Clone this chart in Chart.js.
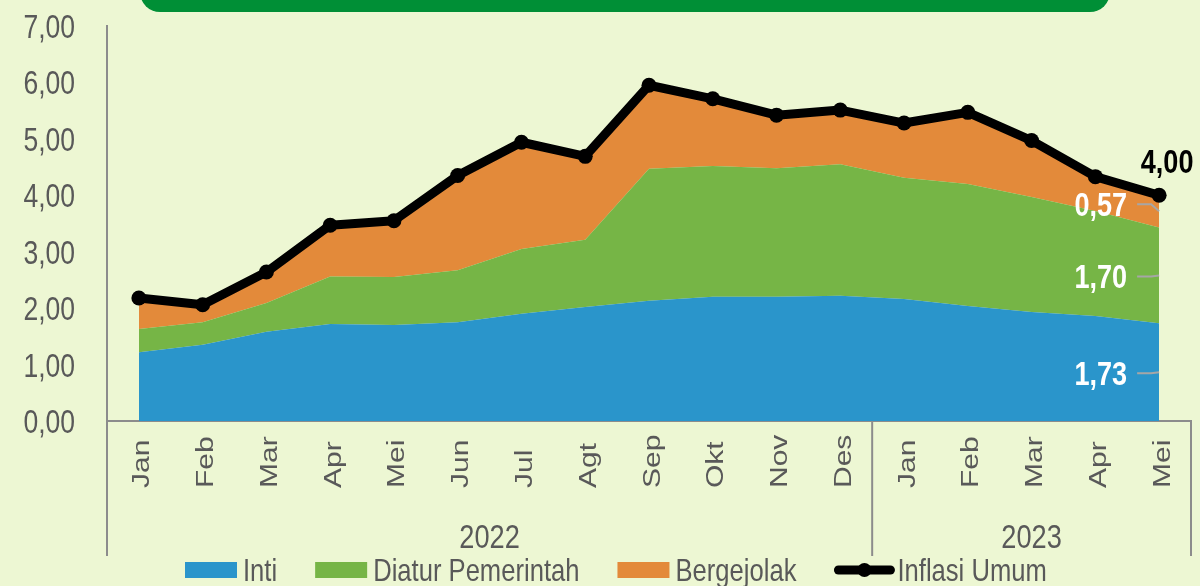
<!DOCTYPE html>
<html>
<head>
<meta charset="utf-8">
<script src="https://cdn.jsdelivr.net/npm/chart.js@4"></script>
<style>
  html, body { margin: 0; padding: 0; background: #EDF7D3; }
  #wrap { width: 1200px; height: 586px; }
</style>
</head>
<body>
<div id="wrap"><canvas id="c" width="1200" height="586"></canvas></div>
<script>
// ---- data ----
const months = ['Jan','Feb','Mar','Apr','Mei','Jun','Jul','Agt','Sep','Okt','Nov','Des','Jan','Feb','Mar','Apr','Mei'];
const years = ['2022', '2023'];
const monthsPerYear = [12, 5];
const inti        = [1.22,1.35,1.58,1.72,1.70,1.75,1.90,2.02,2.13,2.20,2.20,2.22,2.16,2.04,1.93,1.86,1.73];
const diatur      = [0.41,0.40,0.51,0.84,0.85,0.92,1.15,1.19,2.34,2.32,2.28,2.33,2.15,2.16,2.04,1.86,1.70];
const bergejolak  = [0.55,0.31,0.55,0.91,1.00,1.68,1.89,1.48,1.48,1.19,0.94,0.96,0.97,1.27,1.00,0.61,0.57];
const inflasiUmum = [2.18,2.06,2.64,3.47,3.55,4.35,4.94,4.69,5.95,5.71,5.42,5.51,5.28,5.47,4.97,4.33,4.00];
const seriesNames = ['Inti', 'Diatur Pemerintah', 'Bergejolak', 'Inflasi Umum'];
const yTicks = [0,1,2,3,4,5,6,7];

// ---- style ----
const BG = '#EDF7D3';
const TXT = '#595959';
const AXIS = '#8C8C8C';
const C_INTI = '#2A95CB', C_DIATUR = '#76B546', C_BERG = '#E38A3A';
const FONT = "'Liberation Sans', Arial, sans-serif";
const SQ = 0.8; // horizontal condensing of text
const fmt = v => v.toFixed(2).replace('.', ',');

function squishText(ctx, text, x, y, font, align, color, sx) {
  ctx.save();
  ctx.font = font;
  ctx.fillStyle = color;
  ctx.textAlign = align;
  ctx.textBaseline = 'alphabetic';
  ctx.translate(x, y);
  ctx.scale(sx, 1);
  ctx.fillText(text, 0, 0);
  ctx.restore();
}

const decor = {
  id: 'decor',
  beforeDraw(chart) {
    const ctx = chart.ctx;
    ctx.save();
    ctx.fillStyle = BG;
    ctx.fillRect(0, 0, chart.width, chart.height);
    ctx.fillStyle = '#008F36';
    ctx.beginPath();
    ctx.roundRect(140, -30, 970, 42, 20);
    ctx.fill();
    ctx.restore();
  },
  afterDraw(chart) {
    const ctx = chart.ctx;
    const x = chart.scales.x, y = chart.scales.y, area = chart.chartArea;
    ctx.save();
    // y tick labels
    yTicks.forEach(v => {
      squishText(ctx, fmt(v), 75, y.getPixelForValue(v) + 12, "34px " + FONT, 'right', TXT, 0.78);
    });
    // month labels (rotated, start-aligned at bottom)
    ctx.fillStyle = TXT;
    ctx.font = "30px " + FONT;
    ctx.textAlign = 'left';
    ctx.textBaseline = 'alphabetic';
    months.forEach((m, i) => {
      const px = x.getPixelForValue(i);
      ctx.save();
      ctx.translate(px + 10.5, 488);
      ctx.rotate(-Math.PI / 2);
      ctx.scale(1, 0.82);
      ctx.fillText(m, 0, 0);
      ctx.restore();
    });
    // group separators and year labels
    let start = 0;
    const bounds = [area.left];
    monthsPerYear.forEach((n, k) => {
      const end = start + n - 1;
      const right = (end === months.length - 1) ? area.right
        : (x.getPixelForValue(end) + x.getPixelForValue(end + 1)) / 2;
      bounds.push(right);
      squishText(ctx, years[k], (bounds[k] + right) / 2, 548, "34px " + FONT, 'center', TXT, SQ);
      start += n;
    });
    ctx.strokeStyle = AXIS;
    ctx.lineWidth = 2;
    bounds.forEach(b => {
      ctx.beginPath();
      ctx.moveTo(b, area.bottom);
      ctx.lineTo(b, 556);
      ctx.stroke();
    });
    // legend
    const lfont = "32px " + FONT;
    ctx.font = lfont;
    const cols = [C_INTI, C_DIATUR, C_BERG];
    let lx = 185;
    const ly = 570;
    seriesNames.forEach((name, i) => {
      if (i < 3) {
        ctx.fillStyle = cols[i];
        ctx.fillRect(lx, ly - 8, 52, 16);
        lx += 58;
      } else {
        ctx.strokeStyle = '#000';
        ctx.lineWidth = 9;
        ctx.lineCap = 'round';
        ctx.beginPath();
        ctx.moveTo(lx + 4, ly);
        ctx.lineTo(lx + 56, ly);
        ctx.stroke();
        ctx.fillStyle = '#000';
        ctx.beginPath();
        ctx.arc(lx + 30, ly, 7, 0, Math.PI * 2);
        ctx.fill();
        lx += 63;
      }
      squishText(ctx, name, lx, ly + 11, lfont, 'left', TXT, SQ);
      ctx.font = lfont;
      lx += ctx.measureText(name).width * SQ + 38;
    });
    ctx.restore();
  },
  afterDatasetsDraw(chart) {
    const ctx = chart.ctx;
    const y = chart.scales.y;
    const last = months.length - 1;
    const bfont = "bold 33px " + FONT;
    ctx.save();
    const sets = [inti, diatur, bergejolak];
    let base = y.getPixelForValue(0);
    sets.forEach((arr, k) => {
      const pt = chart.getDatasetMeta(k).data[last];
      const mid = (pt.y + base) / 2;
      const ty = k === 2 ? mid - 7 : mid + 1;
      ctx.strokeStyle = '#A6A6A6';
      ctx.lineWidth = 2;
      ctx.beginPath();
      ctx.moveTo(pt.x - 22, ty);
      ctx.lineTo(pt.x - 8, ty);
      ctx.lineTo(pt.x, mid);
      ctx.stroke();
      squishText(ctx, fmt(arr[last]), pt.x - 32, ty + 12, bfont, 'right', '#FFFFFF', 0.82);
      base = pt.y;
    });
    const lp = chart.getDatasetMeta(3).data[last];
    squishText(ctx, fmt(inflasiUmum[last]), lp.x + 8, lp.y - 22, bfont, 'center', '#000', 0.82);
    ctx.restore();
  }
};

new Chart(document.getElementById('c'), {
  type: 'line',
  data: {
    labels: months,
    datasets: [
      { label: seriesNames[0], data: inti, stack: 'komp', order: 1, fill: 'origin',
        backgroundColor: C_INTI, borderColor: C_INTI, borderWidth: 0, pointRadius: 0, tension: 0 },
      { label: seriesNames[1], data: diatur, stack: 'komp', order: 1, fill: '-1',
        backgroundColor: C_DIATUR, borderColor: C_DIATUR, borderWidth: 0, pointRadius: 0, tension: 0 },
      { label: seriesNames[2], data: bergejolak, stack: 'komp', order: 1, fill: '-1',
        backgroundColor: C_BERG, borderColor: C_BERG, borderWidth: 0, pointRadius: 0, tension: 0 },
      { label: seriesNames[3], data: inflasiUmum, stack: 'total', order: 0, fill: false,
        borderColor: '#000', backgroundColor: '#000', borderWidth: 9,
        borderCapStyle: 'round', borderJoinStyle: 'round',
        pointRadius: 7.5, pointBackgroundColor: '#000', pointBorderWidth: 0, tension: 0 }
    ]
  },
  options: {
    responsive: false,
    animation: false,
    devicePixelRatio: 1,
    layout: { padding: { left: 0, right: 9, top: 26, bottom: 0 } },
    plugins: { legend: { display: false }, tooltip: { enabled: false } },
    scales: {
      x: {
        type: 'category',
        offset: true,
        grid: { display: false },
        border: { display: true, color: AXIS, width: 2 },
        ticks: { display: false },
        afterFit(s) { s.height = 165; }
      },
      y: {
        stacked: true,
        min: 0, max: 7,
        afterBuildTicks(s) { s.ticks = yTicks.map(v => ({ value: v })); },
        grid: { display: false, drawTicks: false },
        border: { display: true, color: AXIS, width: 2 },
        ticks: { display: false },
        afterFit(s) { s.width = 107; }
      }
    }
  },
  plugins: [decor]
});
</script>
</body>
</html>
